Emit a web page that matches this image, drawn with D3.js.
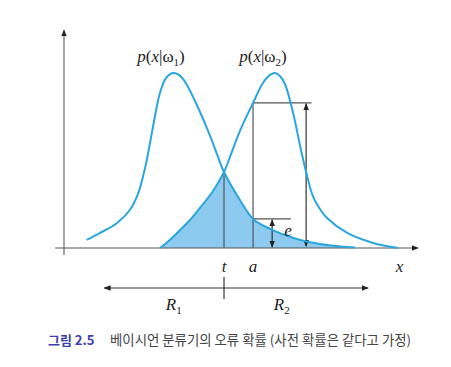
<!DOCTYPE html>
<html><head><meta charset="utf-8">
<script src="https://cdn.jsdelivr.net/npm/d3@7"></script>
<style>
html,body{margin:0;padding:0;background:#fff;}
svg{display:block;}
</style></head>
<body>
<svg id="c" width="451" height="367"></svg>
<script>
// ---- data (x in arbitrary units along the feature axis, y = density relative to peak) ----
const curve1X = [0.64,1.02,1.50,1.86,2.09,2.29,2.43,2.57,2.71,2.88,3.08,3.25,3.42,3.70,4.07,4.29,4.52,4.97,5.34,5.82,6.24,6.67,7.23,7.80,8.22];
const curve1Y = [0.046,0.086,0.143,0.217,0.309,0.457,0.600,0.754,0.886,0.971,1.000,0.989,0.949,0.840,0.669,0.554,0.434,0.274,0.166,0.109,0.074,0.046,0.023,0.009,0.003];
const curve2X = [2.71,2.99,3.28,3.56,3.84,4.21,4.52,4.75,4.97,5.34,5.62,5.82,5.96,6.10,6.24,6.38,6.53,6.67,6.84,7.03,7.23,7.43,8.00,8.73,9.44];
const curve2Y = [0.000,0.046,0.103,0.160,0.229,0.326,0.434,0.554,0.669,0.829,0.943,0.989,1.000,0.983,0.937,0.846,0.720,0.583,0.434,0.297,0.223,0.171,0.086,0.029,0.000];
const curveLabels = ["1","2"];           // subscripts of ω
const tValue = 4.52;                      // decision boundary t
const aValue = 5.34;                      // point a
const p2AtA = 0.829;                      // p(x|ω2) at a
const p1AtA = 0.166;                      // p(x|ω1) at a  (= e)
const axisLabels = ["t","a","x"];
const regionLabels = ["1","2"];
const captionHead = "그림 2.5";
const captionText = "베이시언 분류기의 오류 확률 (사전 확률은 같다고 가정)";

const svg = d3.select("#c");
const X = d3.scaleLinear().domain([0,10]).range([64,418]);
const Y = d3.scaleLinear().domain([0,1]).range([248,73]);

const blue = "#29a6de", fill = "#8ccbef", ink = "#555";
const defs = svg.append("defs");
defs.append("marker").attr("id","ah").attr("viewBox","0 0 10 10")
  .attr("refX",9).attr("refY",5).attr("markerWidth",7).attr("markerHeight",7)
  .attr("markerUnits","userSpaceOnUse").attr("orient","auto-start-reverse")
  .append("path").attr("d","M0,1 L10,5 L0,9 Z").attr("fill","#222");

const c1 = curve1X.map((x,i)=>[x,curve1Y[i]]);
const c2 = curve2X.map((x,i)=>[x,curve2Y[i]]);
const curve = d3.curveCatmullRom.alpha(0.5);
const line = d3.line().x(d=>X(d[0])).y(d=>Y(d[1])).curve(curve);
const area = d3.area().x(d=>X(d[0])).y0(Y(0)).y1(d=>Y(d[1])).curve(curve);

// clip regions for the error area
defs.append("clipPath").attr("id","left").append("rect")
  .attr("x",0).attr("y",0).attr("width",X(tValue)).attr("height",Y(0));
defs.append("clipPath").attr("id","right").append("rect")
  .attr("x",X(tValue)).attr("y",0).attr("width",451-X(tValue)).attr("height",Y(0));

svg.append("path").datum(c2).attr("d",area).attr("fill",fill).attr("clip-path","url(#left)");
svg.append("path").datum(c1).attr("d",area).attr("fill",fill).attr("clip-path","url(#right)");

// axes
svg.append("line").attr("x1",X(0)).attr("x2",X(0)).attr("y1",Y(0)+7).attr("y2",Y(1.245))
  .attr("stroke","#777").attr("stroke-width",1.3).attr("marker-end","url(#ah)");
svg.append("line").attr("x1",X(-0.25)).attr("x2",X(10)).attr("y1",Y(0)).attr("y2",Y(0))
  .attr("stroke",ink).attr("stroke-width",1.2).attr("marker-end","url(#ah)");

// annotation lines
const g = svg.append("g").attr("stroke",ink).attr("stroke-width",1.2).attr("fill","none");
g.append("line").attr("x1",X(tValue)).attr("x2",X(tValue)).attr("y1",Y(0)).attr("y2",Y(0.434));
g.append("line").attr("x1",X(aValue)).attr("x2",X(aValue)).attr("y1",Y(0)).attr("y2",Y(p2AtA));
g.append("line").attr("x1",X(aValue)).attr("x2",X(6.99)).attr("y1",Y(p2AtA)).attr("y2",Y(p2AtA));
g.append("line").attr("x1",X(aValue)).attr("x2",X(6.41)).attr("y1",Y(p1AtA)).attr("y2",Y(p1AtA));
g.append("line").attr("x1",X(6.84)).attr("x2",X(6.84)).attr("y1",Y(0.01)).attr("y2",Y(p2AtA-0.005))
  .attr("stroke","#333").attr("marker-start","url(#ah)").attr("marker-end","url(#ah)");
g.append("line").attr("x1",X(5.88)).attr("x2",X(5.88)).attr("y1",Y(0.005)).attr("y2",Y(p1AtA-0.005))
  .attr("stroke","#333").attr("marker-start","url(#ah)").attr("marker-end","url(#ah)");

// curves
svg.append("path").datum(c1).attr("d",line).attr("fill","none").attr("stroke",blue).attr("stroke-width",2);
svg.append("path").datum(c2).attr("d",line).attr("fill","none").attr("stroke",blue).attr("stroke-width",2);

const serif = "'Liberation Serif','DejaVu Serif',serif";
// curve labels
[[3.08,curveLabels[0]],[5.96,curveLabels[1]]].forEach(([xv,s])=>{
  const t = svg.append("text").attr("x",X(xv)-12).attr("y",62).attr("text-anchor","middle")
    .attr("font-family",serif).attr("font-size",17).attr("fill","#222");
  t.append("tspan").attr("font-style","italic").text("p");
  t.append("tspan").text("(");
  t.append("tspan").attr("font-style","italic").text("x");
  t.append("tspan").text("|ω");
  t.append("tspan").attr("font-size",11).attr("dy",4).text(s);
  t.append("tspan").attr("dy",-4).text(")");
});

// e label
svg.append("text").attr("x",X(6.22)).attr("y",Y(0.07)).attr("font-family",serif).attr("font-style","italic")
  .attr("font-size",17).attr("fill","#222").text("e");

// axis point labels
[[tValue,axisLabels[0]],[aValue,axisLabels[1]],[9.48,axisLabels[2]]].forEach(([xv,s])=>{
  svg.append("text").attr("x",X(xv)).attr("y",272).attr("text-anchor","middle")
    .attr("font-family",serif).attr("font-style","italic").attr("font-size",17).attr("fill","#222").text(s);
});

// region arrow
svg.append("line").attr("x1",X(1.14)).attr("x2",X(8.59)).attr("y1",288).attr("y2",288)
  .attr("stroke","#333").attr("stroke-width",1.2)
  .attr("marker-start","url(#ah)").attr("marker-end","url(#ah)");
svg.append("line").attr("x1",X(tValue)).attr("x2",X(tValue)).attr("y1",277).attr("y2",299)
  .attr("stroke","#333").attr("stroke-width",1.2);
[[3.1,regionLabels[0]],[6.15,regionLabels[1]]].forEach(([xv,s])=>{
  const t = svg.append("text").attr("x",X(xv)).attr("y",310).attr("text-anchor","middle")
    .attr("font-family",serif).attr("font-size",17).attr("fill","#222");
  t.append("tspan").attr("font-style","italic").text("R");
  t.append("tspan").attr("font-size",11).attr("dy",4).text(s);
});

// caption
const cap = svg.append("text").attr("x",48).attr("y",345)
  .attr("font-family","'Noto Sans CJK KR','Noto Sans',sans-serif").attr("font-size",13);
cap.append("tspan").attr("font-weight","bold").attr("fill","#3b3fb0").text(captionHead);
cap.append("tspan").attr("x",110).attr("fill","#444").attr("font-size",13.4).text(captionText);
</script>
</body></html>
